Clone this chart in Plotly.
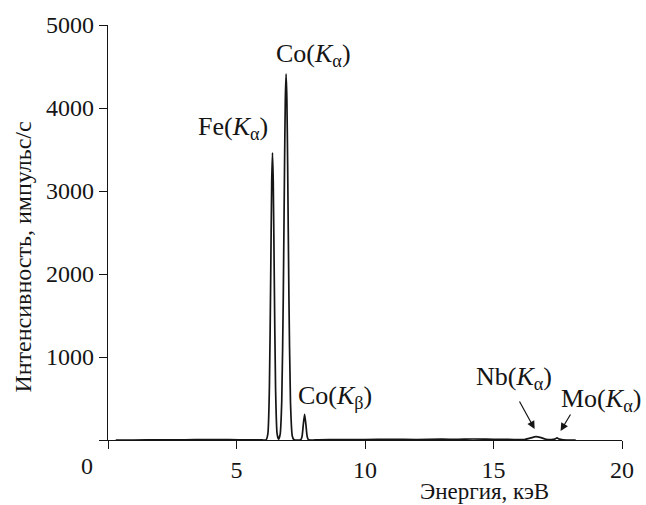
import plotly.graph_objects as go

# Spectrum (energy, keV ; intensity, counts/s)
energy = [0.3, 1.0, 2.0, 3.0, 3.8, 4.7, 5.5, 6.0,
          6.15, 6.22, 6.28, 6.33, 6.37, 6.40, 6.43, 6.47, 6.52, 6.58, 6.64,
          6.70, 6.76, 6.82, 6.87, 6.90, 6.93, 6.96, 6.99, 7.04, 7.10, 7.17, 7.24,
          7.50, 7.55, 7.60, 7.65, 7.70, 7.75, 7.80,
          8.2, 9.0, 10.0, 11.0, 12.0, 13.0, 13.6, 14.2, 15.0, 15.8,
          16.2, 16.45, 16.65, 16.85, 17.05, 17.25, 17.38, 17.47, 17.56, 17.7, 18.2]
intensity = [0, 0, 2, 2, 5, 4, 2, 1,
             2, 75, 630, 1940, 3110, 3460, 3110, 1940, 630, 75, 10,
             71, 461, 1714, 3330, 4110, 4410, 4110, 3330, 1714, 461, 49, 2,
             3, 42, 188, 310, 188, 42, 3,
             3, 4, 6, 8, 6, 10, 8, 12, 8, 6,
             5, 25, 40, 28, 8, 4, 10, 25, 10, 2, 0]

x_ticks = [0, 5, 10, 15, 20]
x_ticktext = ["", "5", "10", "15", "20"]
y_ticks = [0, 1000, 2000, 3000, 4000, 5000]
y_ticktext = ["", "1000", "2000", "3000", "4000", "5000"]

peak_labels = ["Fe(<i>K</i><sub>α</sub>)", "Co(<i>K</i><sub>α</sub>)", "Co(<i>K</i><sub>β</sub>)",
               "Nb(<i>K</i><sub>α</sub>)", "Mo(<i>K</i><sub>α</sub>)"]
label_x = [4.88, 7.98, 8.85, 15.78, 19.2]
label_y = [3762, 4639, 517, 745, 481]

FONT = "Liberation Serif, Times New Roman, serif"
INK = "#151515"

fig = go.Figure()
fig.add_trace(go.Scatter(x=energy, y=intensity, mode="lines",
                         line=dict(color=INK, width=1.7, shape="spline", smoothing=0.6),
                         showlegend=False, hoverinfo="skip"))

ann = []
for t, lx, ly in zip(peak_labels, label_x, label_y):
    ann.append(dict(x=lx, y=ly, xref="x", yref="y", text=t, showarrow=False,
                    xanchor="center", yanchor="middle",
                    font=dict(family=FONT, size=26, color=INK)))
# arrows to Nb and Mo peaks
ann.append(dict(x=16.6, y=132, ax=15.98, ay=481, xref="x", yref="y", axref="x", ayref="y",
                text="", showarrow=True, arrowhead=2, arrowsize=1.3, arrowwidth=1.2,
                arrowcolor=INK))
ann.append(dict(x=17.61, y=108, ax=18.03, ay=325, xref="x", yref="y", axref="x", ayref="y",
                text="", showarrow=True, arrowhead=2, arrowsize=1.3, arrowwidth=1.2,
                arrowcolor=INK))
# origin label
ann.append(dict(x=-0.04, y=-0.063, xref="paper", yref="paper", text="0", showarrow=False,
                xanchor="center", yanchor="middle", font=dict(family=FONT, size=24, color=INK)))
# axis titles
ann.append(dict(x=-0.165, y=0.44, xref="paper", yref="paper", text="Интенсивность, импульс/с",
                textangle=-90, showarrow=False, xanchor="center", yanchor="middle",
                font=dict(family=FONT, size=24, color=INK)))
ann.append(dict(x=0.733, y=-0.125, xref="paper", yref="paper", text="Энергия, кэВ",
                showarrow=False, xanchor="center", yanchor="middle", borderpad=0,
                font=dict(family=FONT, size=23, color=INK)))

fig.update_layout(
    width=646, height=505,
    margin=dict(l=108, r=22, t=24, b=65),
    paper_bgcolor="white", plot_bgcolor="white",
    font=dict(family=FONT, size=24, color=INK),
    annotations=ann,
    xaxis=dict(range=[0, 20], tickvals=x_ticks, ticktext=x_ticktext,
               showline=True, linecolor=INK, linewidth=1.3, ticks="outside",
               ticklen=8, tickwidth=1.3, tickcolor=INK, showgrid=False, zeroline=False,
               tickfont=dict(family=FONT, size=24, color=INK)),
    yaxis=dict(range=[0, 5000], tickvals=y_ticks, ticktext=y_ticktext,
               showline=True, linecolor=INK, linewidth=1.3, ticks="outside",
               ticklen=8, tickwidth=1.3, tickcolor=INK, showgrid=False, zeroline=False,
               tickfont=dict(family=FONT, size=24, color=INK)),
)

fig.write_html("out.html")
